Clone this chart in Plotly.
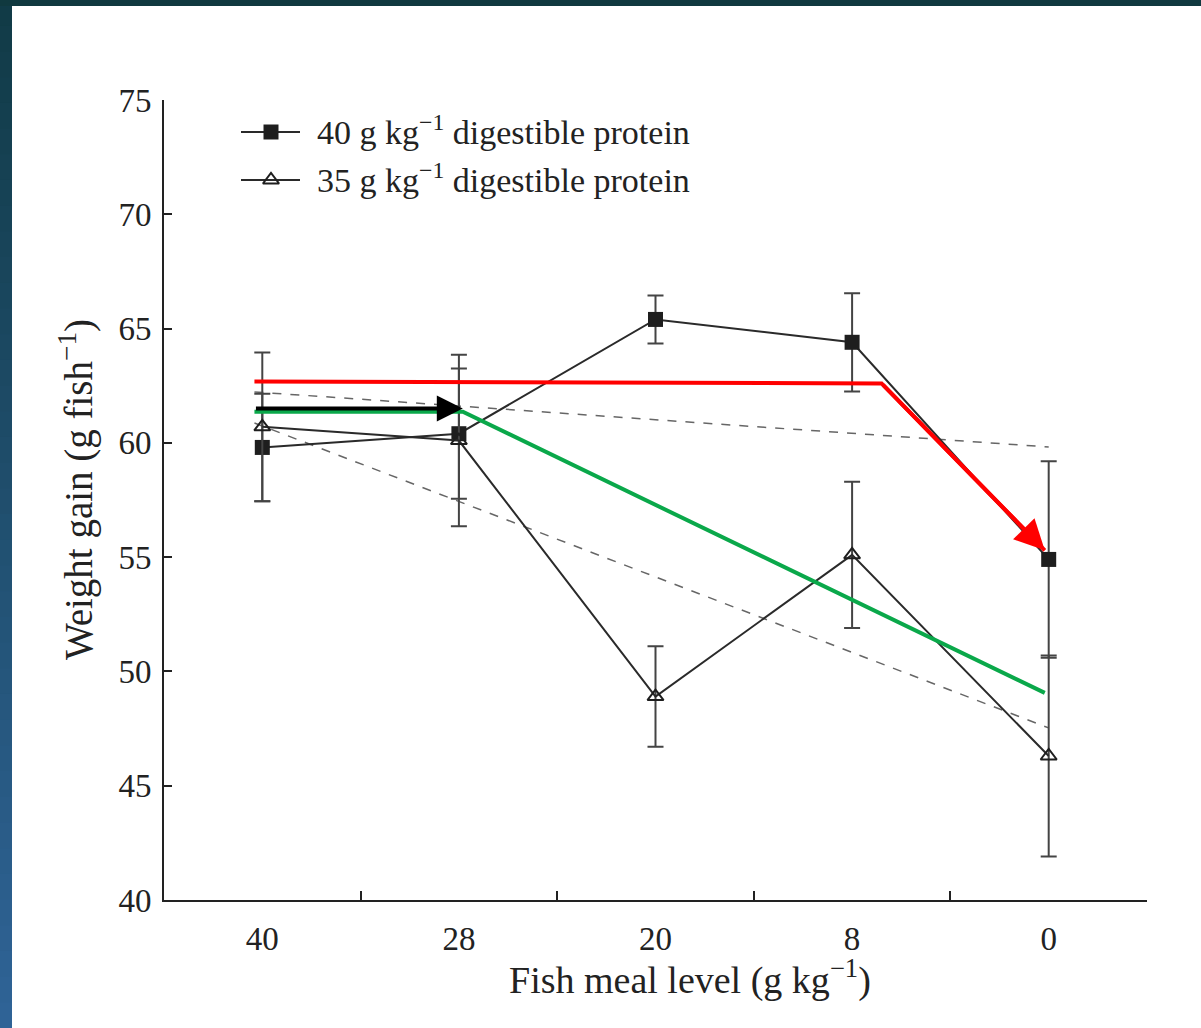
import plotly.graph_objects as go

# Fish meal levels (g kg-1) shown as evenly spaced categories
fish_meal = ["40", "28", "20", "8", "0"]
xpos = list(range(len(fish_meal)))

# Weight gain (g fish-1), mean and standard error
gain_40 = [59.8, 60.4, 65.4, 64.4, 54.9]
err_40 = [2.35, 2.85, 1.05, 2.15, 4.3]
gain_35 = [60.7, 60.1, 48.9, 55.1, 46.3]
err_35 = [3.25, 3.75, 2.2, 3.2, 4.4]

# Linear trend lines (dashed)
trend_x = [-0.04, 4.0]
trend_40 = [62.23, 59.82]
trend_35 = [60.87, 47.53]

# Highlight overlays
red_x = [-0.04, 3.15]
red_y = [62.68, 62.6]
red_tip = (3.98, 55.3)
green_x = [-0.04, 1.02, 3.98]
green_y = [61.36, 61.36, 49.06]
black_x = [-0.04, 1.02]
black_y = [61.5, 61.5]

# Legend labels and axis titles
legend_labels = ["40 g kg<sup>−1</sup> digestible protein",
                 "35 g kg<sup>−1</sup> digestible protein"]
x_title = "Fish meal level (g kg<sup>−1</sup>)"
y_title = "Weight gain (g fish<sup>−1</sup>)"

y_ticks = [40, 45, 50, 55, 60, 65, 70, 75]

FONT = "Liberation Serif"
INK = "#222222"
W, H, L, R, T, B = 1201, 1028, 164, 54, 100, 128
pw, ph = W - L - R, H - T - B


def px_x(px):
    return (px - L) / pw


def px_y(py):
    return (H - B - py) / ph


fig = go.Figure()

fig.add_trace(go.Scatter(
    x=trend_x, y=trend_40, mode="lines", showlegend=False, hoverinfo="skip",
    line=dict(color="#666666", width=1.5, dash="dash")))
fig.add_trace(go.Scatter(
    x=trend_x, y=trend_35, mode="lines", showlegend=False, hoverinfo="skip",
    line=dict(color="#666666", width=1.5, dash="dash")))

sq_marker = dict(symbol="square", size=15, color="#1e1e1e")
tri_marker = dict(symbol="triangle-up-open", size=14, color="#1e1e1e",
                  line=dict(width=2, color="#1e1e1e"))
series_line = dict(color="#2a2a2a", width=2)

fig.add_trace(go.Scatter(
    x=xpos, y=gain_40, mode="lines+markers", name=legend_labels[0],
    showlegend=False, line=series_line, marker=sq_marker,
    error_y=dict(type="data", array=err_40, color="#444444", thickness=2, width=8)))
fig.add_trace(go.Scatter(
    x=xpos, y=gain_35, mode="lines+markers", name=legend_labels[1],
    showlegend=False, line=series_line, marker=tri_marker,
    error_y=dict(type="data", array=err_35, color="#444444", thickness=2, width=8)))

fig.add_trace(go.Scatter(
    x=red_x + [red_tip[0]], y=red_y + [red_tip[1]], mode="lines", showlegend=False,
    hoverinfo="skip", line=dict(color="#ff0000", width=4)))
fig.add_trace(go.Scatter(
    x=green_x, y=green_y, mode="lines", showlegend=False, hoverinfo="skip",
    line=dict(color="#0aa84a", width=4)))

# Arrow heads
fig.add_annotation(x=red_tip[0], y=red_tip[1], ax=red_x[-1], ay=red_y[-1],
                   xref="x", yref="y", axref="x", ayref="y", text="",
                   showarrow=True, arrowhead=2, arrowsize=1.5, arrowwidth=4,
                   arrowcolor="#ff0000")
fig.add_annotation(x=black_x[1], y=black_y[1], ax=black_x[0], ay=black_y[0],
                   xref="x", yref="y", axref="x", ayref="y", text="",
                   showarrow=True, arrowhead=2, arrowsize=1.3, arrowwidth=4,
                   arrowcolor="#000000")

# Legend drawn on an overlay axis spanning the plot area (0..1 both ways)
legend_rows = [132, 180]
legend_markers = [sq_marker, tri_marker]
for row, label, mk in zip(legend_rows, legend_labels, legend_markers):
    fig.add_trace(go.Scatter(
        x=[px_x(241), px_x(300)], y=[px_y(row)] * 2, mode="lines",
        line=dict(color="#2a2a2a", width=2), xaxis="x2", yaxis="y2",
        showlegend=False, hoverinfo="skip"))
    fig.add_trace(go.Scatter(
        x=[px_x(271)], y=[px_y(row)], mode="markers", marker=mk,
        xaxis="x2", yaxis="y2", showlegend=False, hoverinfo="skip"))
    fig.add_annotation(x=px_x(315), y=px_y(row - 2), xref="x2", yref="y2",
                       text=label, showarrow=False, xanchor="left",
                       yanchor="middle",
                       font=dict(family=FONT, size=34, color=INK))

# Axis titles
fig.add_annotation(x=px_x(690), y=px_y(978), xref="paper", yref="paper",
                   text=x_title, showarrow=False, xanchor="center",
                   yanchor="middle", font=dict(family=FONT, size=38, color=INK))
fig.add_annotation(x=px_x(76), y=px_y(490), xref="paper", yref="paper",
                   text=y_title, showarrow=False, textangle=-90,
                   xanchor="center", yanchor="middle",
                   font=dict(family=FONT, size=39, color=INK))

# Dark frame around the white page
shapes = []
n = 40
top_c = (0x11, 0x3b, 0x47)
bot_c = (0x2f, 0x63, 0x96)
for i in range(n):
    f = i / (n - 1)
    c = tuple(round(top_c[k] + (bot_c[k] - top_c[k]) * f) for k in range(3))
    y_top = i * H / n
    y_bot = (i + 1) * H / n + 1
    shapes.append(dict(
        type="rect", xref="paper", yref="paper", layer="below",
        x0=px_x(0), x1=px_x(12), y0=px_y(y_bot), y1=px_y(y_top),
        line_width=0, fillcolor="rgb(%d,%d,%d)" % c))
shapes.append(dict(type="rect", xref="paper", yref="paper", layer="below",
                   x0=px_x(0), x1=px_x(W), y0=px_y(6), y1=px_y(-2),
                   line_width=0, fillcolor="#10393f"))

fig.update_layout(
    width=W, height=H,
    margin=dict(l=L, r=R, t=T, b=B),
    paper_bgcolor="white", plot_bgcolor="white",
    font=dict(family=FONT, size=33, color=INK),
    shapes=shapes,
    showlegend=False,
    xaxis=dict(
        range=[-0.5, 4.5], tickmode="array", tickvals=xpos, ticktext=fish_meal,
        ticks="", showgrid=False, zeroline=False,
        showline=True, linecolor=INK, linewidth=2,
        minor=dict(tickvals=[0.5, 1.5, 2.5, 3.5], ticks="inside", ticklen=9,
                   tickwidth=2, tickcolor=INK, showgrid=False),
        tickfont=dict(size=33), ticklabelstandoff=8),
    yaxis=dict(
        range=[40, 75], tickmode="array", tickvals=y_ticks,
        ticks="inside", ticklen=8, tickwidth=2, tickcolor=INK,
        showgrid=False, zeroline=False,
        showline=True, linecolor=INK, linewidth=2,
        tickfont=dict(size=33), ticklabelstandoff=4),
    xaxis2=dict(range=[0, 1], domain=[0, 1], overlaying="x", visible=False,
                fixedrange=True),
    yaxis2=dict(range=[0, 1], domain=[0, 1], overlaying="y", visible=False,
                fixedrange=True),
)

fig.write_html("out.html")
